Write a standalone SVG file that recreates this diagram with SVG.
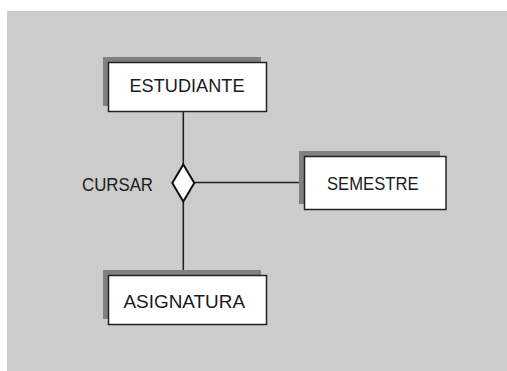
<svg xmlns="http://www.w3.org/2000/svg" width="507" height="371" viewBox="0 0 507 371">
<style>
.bg{fill:#cccccc}
.shadow{fill:#808080}
.box{fill:#ffffff;stroke:#222222;stroke-width:1.5}
.lbl{font-family:"Liberation Sans",Arial,sans-serif;font-size:19px;fill:#1a1a1a}
.conn{stroke:#222222;stroke-width:1.6;fill:none}
.rel{fill:#ffffff;stroke:#111111;stroke-width:2}
</style>
<rect class="bg" x="7" y="11" width="500" height="360"/>
<g id="connectors">
<line class="conn" x1="183.3" y1="112" x2="183.3" y2="164"/>
<line class="conn" x1="183.3" y1="202" x2="183.3" y2="275"/>
<line class="conn" x1="194" y1="182.5" x2="304" y2="182.5"/>
</g>
<g id="estudiante">
<rect class="shadow" x="103" y="57" width="158" height="49"/>
<rect class="box" x="108.5" y="62.5" width="158" height="49"/>
<text class="lbl" x="129.5" y="91.5" textLength="115" lengthAdjust="spacingAndGlyphs">ESTUDIANTE</text>
</g>
<g id="cursar">
<polygon class="rel" points="183.3,164.5 194.3,183 183.3,201.5 172.3,183"/>
<text class="lbl" x="82" y="190.5" textLength="71" lengthAdjust="spacingAndGlyphs">CURSAR</text>
</g>
<g id="semestre">
<rect class="shadow" x="299" y="151" width="141" height="53"/>
<rect class="box" x="304.5" y="156.5" width="141.5" height="53"/>
<text class="lbl" x="327" y="189.5" textLength="91.5" lengthAdjust="spacingAndGlyphs">SEMESTRE</text>
</g>
<g id="asignatura">
<rect class="shadow" x="103" y="270" width="158" height="49"/>
<rect class="box" x="108.5" y="275.5" width="158" height="49"/>
<text class="lbl" x="123.5" y="307.5" textLength="121.5" lengthAdjust="spacingAndGlyphs">ASIGNATURA</text>
</g>
</svg>
